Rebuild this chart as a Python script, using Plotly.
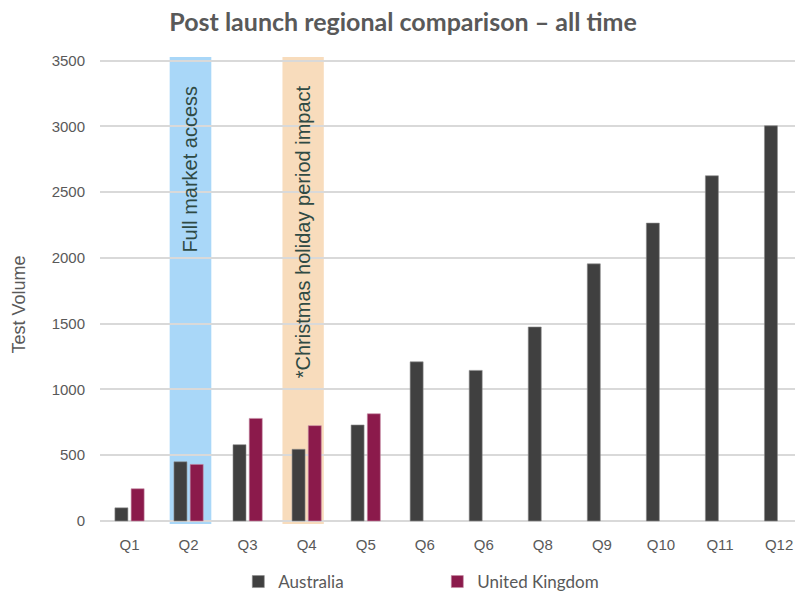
import plotly.graph_objects as go

# Quarter labels (the seventh quarter is labelled "Q6" in the source data)
quarters = ["Q1", "Q2", "Q3", "Q4", "Q5", "Q6", "Q6", "Q8", "Q9", "Q10", "Q11", "Q12"]
australia = [100, 450, 580, 545, 730, 1210, 1145, 1475, 1955, 2265, 2625, 3005]
united_kingdom = [245, 430, 780, 725, 815, None, None, None, None, None, None, None]

y_ticks = [0, 500, 1000, 1500, 2000, 2500, 3000, 3500]

# Highlighted periods: (quarter index, left offset, right offset, fill, label)
bands = [
    (1, -0.32, 0.385, "#a9d7f8", "Full market access"),
    (3, -0.41, 0.29, "#f8dcbc", "*Christmas holiday period impact"),
]

positions = list(range(len(quarters)))

SANS = "Liberation Sans, Arial, sans-serif"
HEAD = "Lato, Open Sans, sans-serif"

fig = go.Figure()
fig.add_trace(go.Bar(
    x=positions, y=australia, name="Australia",
    marker=dict(color="#404040", line=dict(color="#8c8c8c", width=0.6)),
))
fig.add_trace(go.Bar(
    x=positions, y=united_kingdom, name="United Kingdom",
    marker=dict(color="#8b1a4b", line=dict(color="#c48aa3", width=0.6)),
))

for idx, lo, hi, fill, label in bands:
    fig.add_shape(
        type="rect", xref="x", yref="y domain",
        x0=idx + lo, x1=idx + hi, y0=0, y1=1,
        fillcolor=fill, line=dict(width=0), layer="below",
    )
    fig.add_annotation(
        x=idx + (lo + hi) / 2, xref="x", y=0.943, yref="paper",
        text=label, textangle=-90, showarrow=False,
        xanchor="center", yanchor="top",
        font=dict(family=SANS, size=20, color="#2f4a44"),
    )

# Vertical axis title
fig.add_annotation(
    x=(19 - 100) / 695, xref="paper", y=0.47, yref="paper", text="Test Volume",
    textangle=-90, showarrow=False, xanchor="center", yanchor="middle",
    font=dict(family=SANS, size=18, color="#595959"),
)

fig.update_layout(
    width=795, height=593,
    margin=dict(l=100, r=0, t=57, b=69),
    paper_bgcolor="white", plot_bgcolor="white",
    barmode="group", bargap=0.45, bargroupgap=0.2,
    title=dict(
        text="<b>Post launch regional comparison – all time</b>",
        x=0.507, xanchor="center", y=0.963, yanchor="middle",
        font=dict(family=HEAD, size=25, color="#595959"),
    ),
    xaxis=dict(
        tickmode="array", tickvals=positions, ticktext=quarters,
        range=[-0.5, 11.27], showgrid=False, zeroline=False, automargin=False,
        showline=False, ticks="", ticklabelstandoff=10,
        tickfont=dict(family=SANS, size=15, color="#595959"),
    ),
    yaxis=dict(
        range=[-23, 3528], tickvals=y_ticks, automargin=False,
        showgrid=True, gridcolor="#d9d9d9", gridwidth=1.5,
        zeroline=True, zerolinecolor="#d9d9d9", zerolinewidth=1.5,
        showline=False, ticks="", ticklabelstandoff=14,
        tickfont=dict(family=SANS, size=15, color="#595959"),
    ),
    legend=dict(
        orientation="h", x=0.199, xanchor="left",
        y=(593 - 582) / 593, yref="container", yanchor="middle",
        entrywidth=154, entrywidthmode="pixels",
        font=dict(family=HEAD, size=17, color="#595959"),
        bgcolor="rgba(0,0,0,0)",
    ),
    showlegend=True,
)

fig.write_html("out.html")
